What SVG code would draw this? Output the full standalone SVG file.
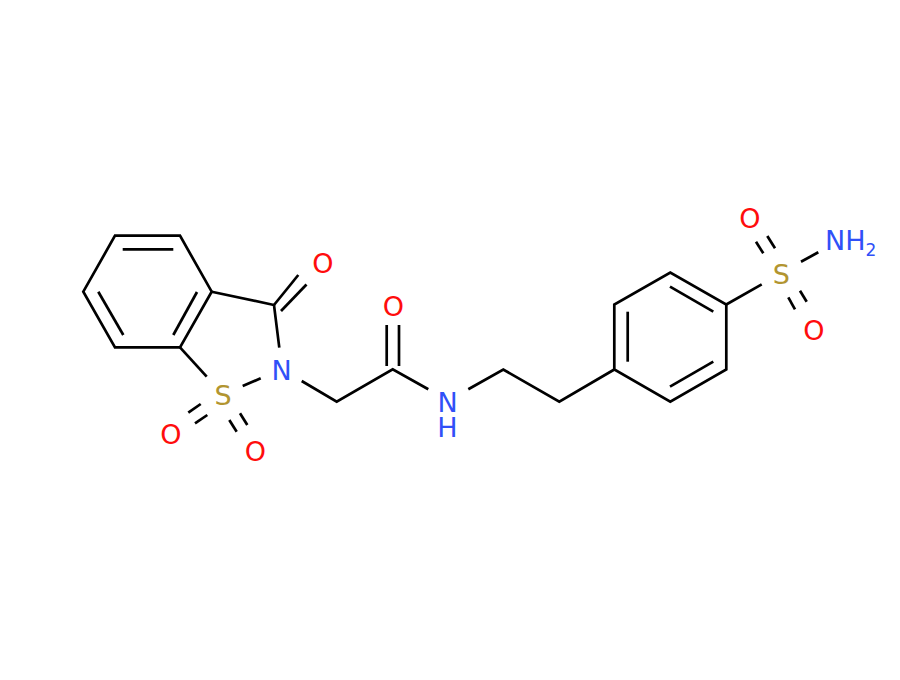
<svg xmlns="http://www.w3.org/2000/svg" width="900" height="680" viewBox="0 0 900 680">
<style>
.b{stroke:#000;stroke-width:2.7;fill:none;stroke-linecap:butt;stroke-linejoin:miter}
.t{font-family:"DejaVu Sans","Liberation Sans",sans-serif;font-size:27px;text-anchor:middle}
.O{fill:#FF0D0D}
.N{fill:#3050F8}
.S{fill:#B29530}
</style>
<rect width="900" height="680" fill="#fff"/>
<g id="bonds">
<polygon class="b" points="115,235.7 180,235.7 211.7,291.7 180,347.3 115,347.3 83.3,291.7"/>
<line class="b" x1="122.7" y1="249.3" x2="173.3" y2="249.3"/>
<line class="b" x1="98.3" y1="291.7" x2="123.3" y2="335"/>
<line class="b" x1="197" y1="292" x2="173.3" y2="335"/>
<polyline class="b" points="211.7,291.7 274,305 279.3,347.7"/>
<line class="b" x1="274" y1="305" x2="298.3" y2="275"/>
<line class="b" x1="281" y1="311" x2="306.5" y2="284.5"/>
<line class="b" x1="180" y1="347.3" x2="206.7" y2="376.7"/>
<line class="b" x1="242.7" y1="386" x2="260.7" y2="378.3"/>
<line class="b" x1="188.3" y1="412.7" x2="200.7" y2="404"/>
<line class="b" x1="195" y1="423.3" x2="207.3" y2="415"/>
<line class="b" x1="229.3" y1="420" x2="236.7" y2="431.7"/>
<line class="b" x1="240" y1="413.3" x2="247.3" y2="425"/>
<polyline class="b" points="301.7,381 336.7,401.7 392.7,369.3 428.3,389.3"/>
<line class="b" x1="386.7" y1="325" x2="386.7" y2="366"/>
<line class="b" x1="399" y1="325" x2="399" y2="366"/>
<polyline class="b" points="468.3,389.3 503.3,369.5 559.3,401.7 614.3,369.5"/>
<polygon class="b" points="614.3,369.5 614.3,304.5 670.3,272.5 726.3,304.5 726.3,369.5 670.3,401.7"/>
<line class="b" x1="627.7" y1="311.7" x2="627.7" y2="361.7"/>
<line class="b" x1="670" y1="286.7" x2="713.3" y2="311.7"/>
<line class="b" x1="670" y1="386.7" x2="713.3" y2="361.7"/>
<line class="b" x1="726.3" y1="304.5" x2="761.7" y2="284.3"/>
<line class="b" x1="756" y1="241.7" x2="763.3" y2="253.3"/>
<line class="b" x1="767.3" y1="236" x2="775" y2="248.3"/>
<line class="b" x1="788.3" y1="297.3" x2="795" y2="309.3"/>
<line class="b" x1="800" y1="290.7" x2="806.7" y2="301.7"/>
<line class="b" x1="801" y1="261.7" x2="818.3" y2="252.3"/>
</g>
<g id="O1"><text class="t O" x="323" y="273">O</text></g>
<g id="N2"><text class="t N" x="281.5" y="379.5">N</text></g>
<g id="S1"><text class="t S" x="223" y="405">S</text></g>
<g id="O1a"><text class="t O" x="171" y="444">O</text></g>
<g id="O1b"><text class="t O" x="255.5" y="461">O</text></g>
<g id="O_amide"><text class="t O" x="393.3" y="315.5">O</text></g>
<g id="N_amide"><text class="t N" x="447.5" y="411.7">N<tspan x="447.5" dy="25.3">H</tspan></text></g>
<g id="S_sulf"><text class="t S" x="781.3" y="284">S</text></g>
<g id="O_sulf_a"><text class="t O" x="750" y="227.5">O</text></g>
<g id="O_sulf_b"><text class="t O" x="814" y="340">O</text></g>
<g id="NH2"><text class="t N" x="825" y="250" style="text-anchor:start">NH<tspan dy="6" style="font-size:17px">2</tspan></text></g>
</svg>
